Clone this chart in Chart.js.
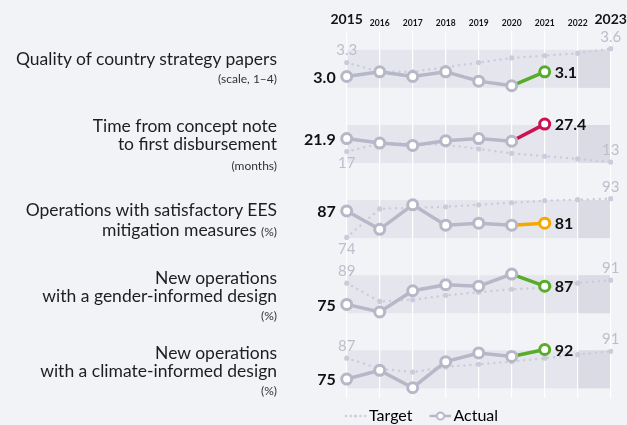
<!DOCTYPE html>
<html>
<head>
<meta charset="utf-8">
<script src="https://cdn.jsdelivr.net/npm/chart.js@4.4.0/dist/chart.umd.min.js"></script>
<style>
  html, body { margin: 0; padding: 0; background: #f2f3f7; }
  .wrap { position: relative; width: 627px; height: 425px; overflow: hidden; font-family: 'Lato', sans-serif; color: #1e1e1e; }
  canvas { position: absolute; left: 0; top: 0; }
  .label { position: absolute; right: 350px; white-space: nowrap; font-size: 17.5px; line-height: 18px; text-align: right; }
  .small, .label small { font-size: 12px; line-height: 14px; color: #333; }
</style>
</head>
<body>
<div class="wrap">
  <canvas id="chart" width="627" height="425"></canvas>

  <div class="label" style="top:50px">Quality of country strategy papers</div>
  <div class="label small" style="top:72px">(scale, 1–4)</div>

  <div class="label" style="top:117px">Time from concept note</div>
  <div class="label" style="top:135px">to first disbursement</div>
  <div class="label small" style="top:159px">(months)</div>

  <div class="label" style="top:201px">Operations with satisfactory EES</div>
  <div class="label" style="top:221px">mitigation measures <small>(%)</small></div>

  <div class="label" style="top:269px">New operations</div>
  <div class="label" style="top:287px">with a gender-informed design</div>
  <div class="label small" style="top:309px">(%)</div>

  <div class="label" style="top:344px">New operations</div>
  <div class="label" style="top:362px">with a climate-informed design</div>
  <div class="label small" style="top:384px">(%)</div>
</div>

<script>
const years = ['2015', '2016', '2017', '2018', '2019', '2020', '2021', '2022', '2023'];

// actual results run to 2021, targets run to 2023
const qualityActual = [3.0, 3.1, 3.0, 3.1, 2.9, 2.8, 3.1];
const qualityTarget = [3.3, 3.1, 3.1, 3.2, 3.3, 3.4, 3.45, 3.5, 3.6];

const disbursementActual = [21.9, 20.2, 19.3, 21.1, 21.9, 20.9, 27.4];
const disbursementTarget = [17, 20, 20, 19.5, 18, 16.3, 15.2, 14.2, 13];

const eesActual = [87, 78, 90, 80, 81, 80, 81];
const eesTarget = [74, 88, 88.5, 89, 90, 91, 92, 92.5, 93];

const genderActual = [75, 70, 84, 88, 87, 95, 87];
const genderTarget = [89, 77, 78, 81, 83, 85, 86, 89, 91];

const climateActual = [75, 80, 70, 85, 90, 88, 92];
const climateTarget = [87, 81, 79, 82, 83.5, 85, 87, 89, 91];

const GREY = '#b6b7c7';
const TARGET_GREY = '#cbccd9';
const LABEL_GREY = '#bdbecc';

// plot area edges (2015 and 2023 columns)
const PLOT_LEFT = 346.7;
const PLOT_RIGHT_GAP = 16.3;

const rows = [
  { actual: qualityActual, target: qualityTarget, color: '#57ad2b', decimals: 1, min: 2.36, max: 3.98, weight: 1 },
  { actual: disbursementActual, target: disbursementTarget, color: '#cc1250', decimals: 1, min: 5.7, max: 34.2, weight: 1 },
  { actual: eesActual, target: eesTarget, color: '#f4a800', decimals: 0, min: 64.7, max: 101.5, weight: 1 },
  { actual: genderActual, target: genderTarget, color: '#57ad2b', decimals: 0, min: 57.1, max: 106.6, weight: 1 },
  { actual: climateActual, target: climateTarget, color: '#57ad2b', decimals: 0, min: 64.1, max: 102.3, weight: 0.884 },
];

const datasets = [];
const scales = {
  x: {
    type: 'category',
    position: 'top',
    grid: { color: '#ffffff', lineWidth: 1.2, drawTicks: false },
    border: { display: false },
    ticks: {
      autoSkip: false,
      maxRotation: 0,
      padding: 3,
      color: '#151515',
      font: ctx => (ctx.index === 0 || ctx.index === years.length - 1)
        ? { size: 14, weight: 'bold' }
        : { size: 8.5, weight: 'bold' },
    },
    // the year axis decides where the plot area starts and ends
    afterFit(scale) {
      scale.paddingLeft = PLOT_LEFT;
      scale.paddingRight = PLOT_RIGHT_GAP;
    },
  },
};

rows.forEach((row, i) => {
  const last = row.actual.length - 1;
  datasets.push({
    label: 'Actual',
    data: row.actual,
    yAxisID: 'y' + i,
    order: 1,
    borderColor: GREY,
    borderWidth: 3.5,
    segment: { borderColor: ctx => ctx.p1DataIndex === last ? row.color : GREY },
    pointRadius: 5,
    pointHoverRadius: 5,
    pointBorderWidth: 3,
    pointBackgroundColor: '#ffffff',
    pointBorderColor: row.actual.map((v, j) => j === last ? row.color : GREY),
  });
  datasets.push({
    label: 'Target',
    data: row.target,
    yAxisID: 'y' + i,
    order: 2,
    borderColor: TARGET_GREY,
    borderWidth: 2.5,
    borderDash: [0, 6],
    borderCapStyle: 'round',
    pointRadius: 2.6,
    pointHoverRadius: 2.6,
    pointBorderWidth: 0,
    pointBackgroundColor: TARGET_GREY,
  });
  scales['y' + i] = {
    type: 'linear',
    position: 'right',
    stack: 'rows',
    stackWeight: row.weight,
    min: row.min,
    max: row.max,
    grid: { display: false, drawTicks: false },
    border: { display: false },
    ticks: { display: false },
  };
});

// shaded band behind each row, darker over the 2022-2023 stretch
const rowBands = {
  id: 'rowBands',
  beforeDraw(chart) {
    const { ctx, scales } = chart;
    const x = scales.x;
    const left = x.getPixelForValue(0);
    const right = x.getPixelForValue(years.length - 1);
    const future = x.getPixelForValue(years.length - 2);
    ctx.save();
    rows.forEach((row, i) => {
      const top = scales['y' + i].top + 18.75;
      ctx.fillStyle = '#e5e6ed';
      ctx.fillRect(left, top, right - left, 38);
      ctx.fillStyle = '#dadbe4';
      ctx.fillRect(future, top, right - future, 38);
    });
    ctx.restore();
  },
};

// start / end values and target end points
const valueLabels = {
  id: 'valueLabels',
  afterDatasetsDraw(chart) {
    const { ctx, scales } = chart;
    const x = scales.x;
    ctx.save();
    ctx.textBaseline = 'middle';
    rows.forEach((row, i) => {
      const y = scales['y' + i];
      const last = row.actual.length - 1;
      const tLast = row.target.length - 1;

      ctx.font = 'bold 16px Lato';
      ctx.fillStyle = '#111111';
      ctx.textAlign = 'right';
      ctx.fillText(row.actual[0].toFixed(row.decimals), x.getPixelForValue(0) - 11, y.getPixelForValue(row.actual[0]) + 1);
      ctx.textAlign = 'left';
      ctx.fillText(row.actual[last].toFixed(row.decimals), x.getPixelForValue(last) + 10, y.getPixelForValue(row.actual[last]) + 1);

      ctx.font = '15px Lato';
      ctx.fillStyle = LABEL_GREY;
      ctx.textAlign = 'center';
      const firstAbove = row.target[0] > row.actual[0];
      ctx.fillText(String(row.target[0]), x.getPixelForValue(0), y.getPixelForValue(row.target[0]) + (firstAbove ? -12 : 12));
      ctx.fillText(String(row.target[tLast]), x.getPixelForValue(tLast), y.getPixelForValue(row.target[tLast]) - 12);
    });
    ctx.restore();
  },
};

function legendIcon(drawFn) {
  const c = document.createElement('canvas');
  c.width = 35;
  c.height = 12;
  drawFn(c.getContext('2d'));
  return c;
}

const targetIcon = legendIcon(g => {
  g.fillStyle = TARGET_GREY;
  for (let k = 0; k < 5; k++) {
    g.beginPath();
    g.arc(14 + k * 4.8, 6, k === 2 ? 1.6 : 1.2, 0, Math.PI * 2);
    g.fill();
  }
});

const actualIcon = legendIcon(g => {
  g.strokeStyle = GREY;
  g.lineWidth = 2.5;
  g.beginPath();
  g.moveTo(13, 6);
  g.lineTo(35, 6);
  g.stroke();
  g.fillStyle = '#ffffff';
  g.lineWidth = 2;
  g.beginPath();
  g.arc(24, 6, 3.6, 0, Math.PI * 2);
  g.fill();
  g.stroke();
});

Chart.defaults.font.family = 'Lato';

new Chart(document.getElementById('chart'), {
  type: 'line',
  data: { labels: years, datasets },
  options: {
    responsive: false,
    animation: false,
    // left padding only positions the legend; the year axis sets the plot edges
    layout: { padding: { top: 8.25, left: 209, right: 0, bottom: 0 } },
    scales,
    plugins: {
      tooltip: { enabled: false },
      legend: {
        position: 'bottom',
        maxHeight: 27,
        labels: {
          usePointStyle: true,
          pointStyleWidth: 23,
          padding: 10,
          color: '#222222',
          font: { size: 16 },
          generateLabels: () => [
            { text: 'Target', pointStyle: targetIcon, fillStyle: TARGET_GREY, strokeStyle: TARGET_GREY, lineWidth: 0, hidden: false, datasetIndex: 1 },
            { text: 'Actual', pointStyle: actualIcon, fillStyle: GREY, strokeStyle: GREY, lineWidth: 0, hidden: false, datasetIndex: 0 },
          ],
        },
      },
    },
  },
  plugins: [rowBands, valueLabels],
});
</script>
</body>
</html>
